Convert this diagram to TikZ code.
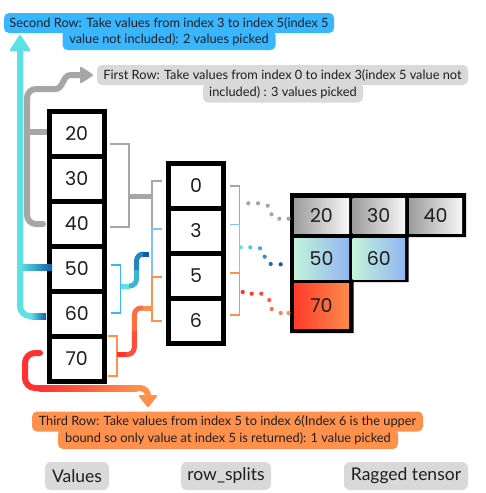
\documentclass[tikz,border=0pt]{standalone}
\usepackage{fontspec}
\setmainfont{Lato}
\newfontfamily\digitfont{Poppins}
\usetikzlibrary{calc}
\definecolor{cyanc}{HTML}{5CE1E6}
\definecolor{blued}{HTML}{0E5DAD}
\definecolor{redc}{HTML}{FF3131}
\definecolor{orangec}{HTML}{FF914D}
\definecolor{grayl}{HTML}{A6A6A6}
\definecolor{grayb}{HTML}{D9D9D9}
\definecolor{skyb}{HTML}{38B6FF}
\definecolor{lblue}{HTML}{7CC6F7}
\definecolor{txt}{HTML}{1E1E1E}
\definecolor{tgA}{HTML}{9C9C9C}
\definecolor{tgB}{HTML}{F7F7F7}
\definecolor{tbA}{HTML}{C4F3D9}
\definecolor{tbB}{HTML}{90B6F2}
\definecolor{trA}{HTML}{FF3B2B}
\definecolor{trB}{HTML}{FB8C4C}
\begin{document}
\begin{tikzpicture}[x=1pt,y=-1pt,
  vcell/.style={draw=black, line width=5pt, fill=white, minimum width=55.5pt, minimum height=45pt, inner sep=0pt, font=\digitfont\fontsize{19}{19}\selectfont, text=txt},
  tcell/.style={minimum width=55pt, inner sep=0pt, font=\digitfont\fontsize{19}{19}\selectfont, text=txt},
  lbl/.style={rounded corners=5pt, inner sep=0pt, minimum height=20pt, font=\fontsize{12.8}{13}\selectfont, text=txt},
  tag/.style={fill=grayb, rounded corners=6pt, minimum height=28pt, inner sep=0pt, font=\fontsize{17.5}{17.5}\selectfont, text=txt},
  thick line/.style={line width=6pt},
  brk/.style={line width=1.4pt},
  dotc/.style={radius=2.1pt}
]
\useasboundingbox (0,0) rectangle (486,493);

% ---------------- labels ----------------
\node[lbl, fill=skyb, minimum width=213pt] (s2) at (169,40) {value not included): 2 values picked};
\node[lbl, fill=skyb, minimum width=330pt] (s1) at (169,23) {Second Row: Take values from index 3 to index 5(index 5};
\node[lbl, fill=grayb, minimum width=160pt] (f2) at (283,92.5) {included) : 3 values picked};
\node[lbl, fill=grayb, minimum width=371pt] (f1) at (282.5,75) {First Row: Take values from index 0 to index 3(index 5 value not};
\node[lbl, fill=orangec, minimum width=340pt] (t2) at (228,439) {bound so only value at index 5 is returned): 1 value picked};
\node[lbl, fill=orangec, minimum width=391pt] (t1) at (227.5,421.5) {Third Row: Take values from index 5 to index 6(Index 6 is the upper};

\node[tag, minimum width=64pt] (lv) at (77,476) {Values};
\node[tag, minimum width=90pt] (lr) at (226,476) {row\_splits};
\node[tag, minimum width=124pt] (lt) at (406,476) {Ragged tensor};

% ---------------- values column ----------------
\foreach \v [count=\i from 0] in {20,30,40,50,60,70}
  \node[vcell] (v\i) at (76.75,133.5+45*\i) {\v};

% ---------------- row splits column ----------------
\foreach \v [count=\i from 0] in {0,3,5,6}
  \node[vcell, minimum width=55pt] (r\i) at (196,186+45*\i) {\v};

% ---------------- ragged tensor ----------------
\fill[black] (290,193) -- (466,193) -- (466,237) -- (408.5,237) -- (408.5,282)
  -- (353.5,282) -- (353.5,333) -- (290,333) -- cycle;
\node[tcell, minimum height=35pt, left color=tgA, right color=tgB] (a0) at (321.5,215.5) {20};
\node[tcell, minimum height=35pt, minimum width=52.5pt, left color=tgA, right color=tgB] (a1) at (378.75,215.5) {30};
\node[tcell, minimum height=35pt, minimum width=53pt, left color=tgA, right color=tgB] (a2) at (435.5,215.5) {40};
\node[tcell, minimum height=41pt, left color=tbA, right color=tbB] (b0) at (321.5,258.5) {50};
\node[tcell, minimum height=41pt, minimum width=52.5pt, left color=tbA, right color=tbB] (b1) at (378.75,258.5) {60};
\node[tcell, minimum height=45pt, left color=trA, right color=trB] (c0) at (321.5,305.5) {70};

% ---------------- brackets: values -> row_splits ----------------
\draw[brk, grayl] (110,144) -- (129,144) -- (129,227) -- (110,227);
\draw[line width=5pt, grayl] (129,196) -- (152,196);
\draw[brk, skyb] (111,265) -- (120.7,265) -- (120.7,313) -- (111,313);
\draw[brk, orangec] (108,336) -- (117,336) -- (117,376) -- (108,376);

\draw[brk, grayl] (162,181) -- (152,181) -- (152,229);
\draw[brk, lblue] (162,229) -- (152,229) -- (152,277);
\draw[brk, orangec] (162,277) -- (152,277) -- (152,321) -- (162,321);

% blue S stem (gradient approximated)
\draw[line width=5pt, cyanc] (121,286) -- (129,286);
\draw[line width=5pt, cyanc!65!blued, rounded corners=7pt] (129,286) -- (136.5,286) -- (136.5,270);
\draw[line width=5pt, cyanc!30!blued, rounded corners=7pt] (136.5,270) -- (136.5,254) -- (143,254);
\draw[line width=5pt, blued] (143,254) -- (148.5,254);

% orange stem
\draw[line width=5pt, redc] (117,354.5) -- (126,354.5);
\draw[line width=5pt, redc!70!orangec, rounded corners=7pt] (126,354.5) -- (134.3,354.5) -- (134.3,331);
\draw[line width=5pt, redc!35!orangec, rounded corners=7pt] (134.3,331) -- (134.3,308) -- (143,308);
\draw[line width=5pt, orangec] (143,308) -- (152,308);

% ---------------- brackets right of row_splits ----------------
\draw[brk, grayl] (230,186) -- (239.3,186) -- (239.3,224.5);
\draw[brk, lblue] (230,224.5) -- (239.3,224.5) -- (239.3,273);
\draw[brk, orangec] (230,273) -- (239.3,273) -- (239.3,315) -- (230,315);

% ---------------- dotted connectors ----------------
\foreach \p in {(248.3,203.3),(258,203.3),(267.7,205.7),(271.5,214.3),(279.3,218.7),(288.5,218.7)}
  \fill[grayl] \p circle[dotc];
\fill[cyanc] (240.7,247.3) circle[dotc];
\fill[cyanc!85!blued] (250.3,247.3) circle[dotc];
\fill[cyanc!60!blued] (260,248.3) circle[dotc];
\fill[cyanc!40!blued] (264.7,256.7) circle[dotc];
\fill[cyanc!15!blued] (270.7,264) circle[dotc];
\fill[blued] (280.7,264.3) circle[dotc];
\fill[redc] (242.7,292) circle[dotc];
\fill[redc!90!orangec] (251.7,293.7) circle[dotc];
\fill[redc!75!orangec] (261.3,293.7) circle[dotc];
\fill[redc!55!orangec] (269.3,300) circle[dotc];
\fill[redc!35!orangec] (271.7,309) circle[dotc];
\fill[redc!15!orangec] (280.7,313) circle[dotc];
\fill[orangec] (288.5,313) circle[dotc];

% ---------------- cyan arrow (second row) ----------------
\draw[thick line, cyanc, rounded corners=10pt] (20,48) -- (20,316) -- (32,316);
\shade[left color=cyanc, right color=blued] (31,313) rectangle (46,319);
\shade[left color=cyanc, right color=blued] (20,264) rectangle (52,270);
\fill[cyanc, rounded corners=1.5pt] (9,51) -- (31,51) -- (20,34) -- cycle;

% ---------------- gray arrow (first row) ----------------
\draw[thick line, grayl, rounded corners=9pt, line cap=round] (43,224) -- (27,224) -- (27,89) -- (56,89);
\draw[thick line, grayl] (55,89) .. controls (64,89) and (62,75) .. (71,75) -- (82,75);
\draw[thick line, grayl] (27,132) -- (47,132);
\fill[grayl, rounded corners=1.5pt] (80,66) -- (80,84) -- (94,75) -- cycle;

% ---------------- red arrow (third row) ----------------
\draw[thick line, redc, rounded corners=10pt, line cap=round] (40,353) -- (25,353) -- (25,388) -- (40,388);
\draw[thick line, redc] (39,388) -- (40,388);
\shade[left color=redc, right color=orangec] (39,385) rectangle (137,391);
\draw[thick line, orangec, rounded corners=8pt] (136,388) -- (148,388) -- (148,397);
\fill[orangec, rounded corners=1.5pt] (138,395) -- (158,395) -- (148,408) -- cycle;
\end{tikzpicture}
\end{document}
